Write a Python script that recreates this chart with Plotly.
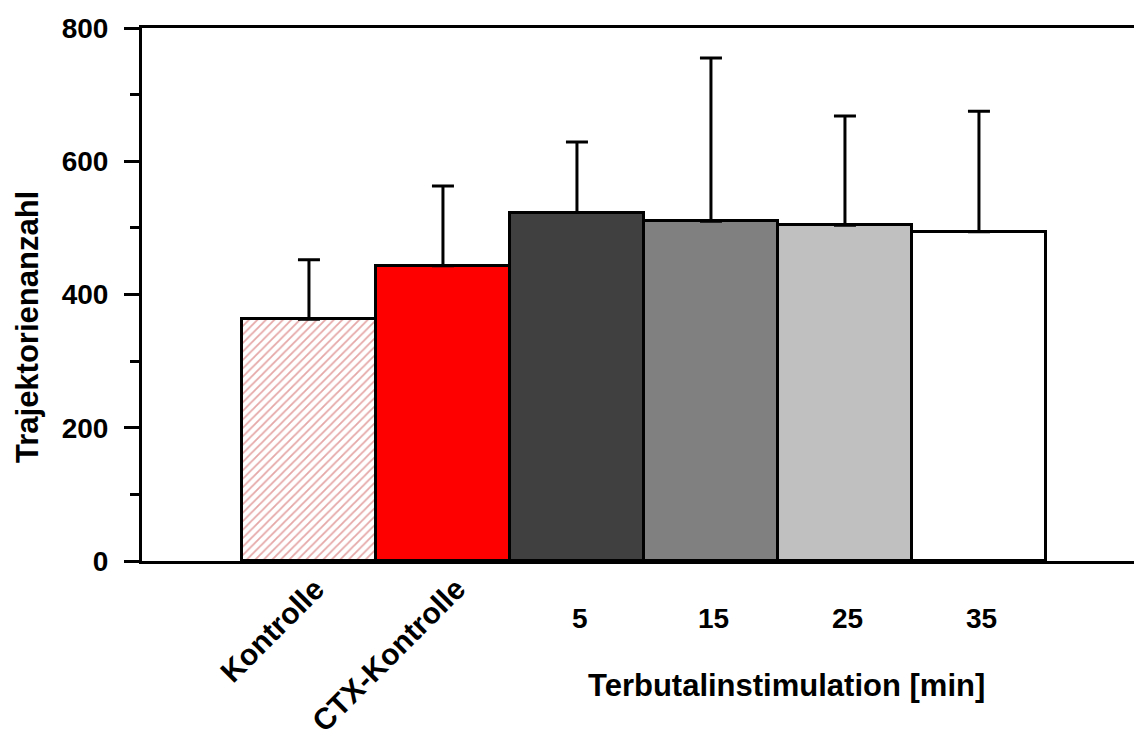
import plotly.graph_objects as go

categories = ["Kontrolle", "CTX-Kontrolle", "5", "15", "25", "35"]
means = [363, 443, 523, 510, 504, 494]
err_upper = [89, 120, 106, 245, 164, 181]
colors = ["#ffffff", "#ff0000", "#404040", "#808080", "#c0c0c0", "#ffffff"]
y_ticks = [0, 200, 400, 600, 800]
y_title = "Trajektorienanzahl"
x_title = "Terbutalinstimulation [min]"

FONT = "Arial, Liberation Sans, sans-serif"
x_pos = list(range(len(categories)))

fig = go.Figure()
for i, (cat, m, e, c) in enumerate(zip(categories, means, err_upper, colors)):
    marker = dict(color=c, line=dict(color="black", width=3))
    if i == 0:
        marker["pattern"] = dict(shape="/", fgcolor="#cc5050", bgcolor="#ffffff",
                                 size=6, solidity=0.3)
    fig.add_trace(go.Bar(
        x=[x_pos[i]], y=[m], width=1, marker=marker, name=cat, showlegend=False,
        error_y=dict(type="data", symmetric=False, array=[e], arrayminus=[0],
                     color="black", thickness=3, width=11),
    ))

annotations = []
rot_shift = {0: 24, 1: 32}
for i, cat in enumerate(categories):
    if i in rot_shift:
        annotations.append(dict(
            x=x_pos[i], y=0, xref="x", yref="y", text=cat, showarrow=False,
            textangle=-45, xanchor="right", yanchor="top",
            xshift=rot_shift[i], yshift=-8,
            font=dict(family=FONT, size=30, color="black", weight="bold")))
    else:
        annotations.append(dict(
            x=x_pos[i], y=-0.107, xref="x", yref="paper", text=cat, showarrow=False,
            xanchor="center", yanchor="middle", xshift=3,
            font=dict(family=FONT, size=28, color="black", weight="bold")))

annotations.append(dict(
    x=0.650, y=-0.2345, xref="paper", yref="paper", text=x_title, showarrow=False,
    xanchor="center", yanchor="middle",
    font=dict(family=FONT, size=31, color="black", weight="bold")))
annotations.append(dict(
    x=0, y=0.439, xref="paper", yref="paper", text=y_title, showarrow=False,
    xanchor="center", yanchor="middle", textangle=-90, xshift=-115,
    font=dict(family=FONT, size=31, color="black", weight="bold")))

fig.update_layout(
    width=1134, height=746,
    margin=dict(l=142, r=0, t=28, b=185),
    paper_bgcolor="white", plot_bgcolor="white",
    bargap=0,
    annotations=annotations,
    font=dict(family=FONT, color="black"),
    xaxis=dict(range=[-1.246, 6.157], showgrid=False, zeroline=False,
               showline=True, linecolor="black", linewidth=3, mirror=True,
               ticks="", showticklabels=False),
    yaxis=dict(range=[0, 800], tickvals=y_ticks, showgrid=False, zeroline=False,
               showline=True, linecolor="black", linewidth=3,
               ticks="outside", ticklen=15, tickwidth=3, tickcolor="black",
               ticklabelstandoff=10,
               tickfont=dict(family=FONT, size=28, color="black", weight="bold"),
               minor=dict(dtick=100, ticks="outside", ticklen=9, tickwidth=3,
                          tickcolor="black", showgrid=False)),
)

fig.write_html("out.html")
